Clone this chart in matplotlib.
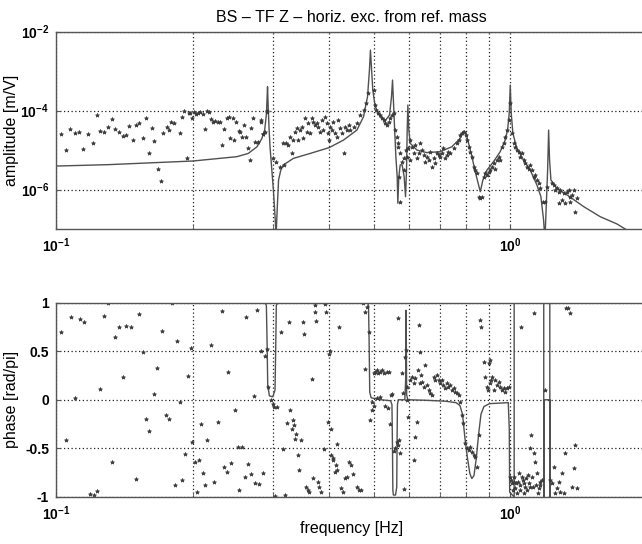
import matplotlib
matplotlib.use("Agg")
import matplotlib.pyplot as plt
import numpy as np

plt.rcParams["font.family"] = ["Liberation Sans", "DejaVu Sans"]
plt.rcParams["mathtext.fontset"] = "custom"
plt.rcParams["mathtext.rm"] = "Liberation Sans"
plt.rcParams["mathtext.bf"] = "Liberation Sans:bold"

# --- fitted model, amplitude [m/V] ---
fit_freq = [0.100, 0.130, 0.200, 0.250, 0.265, 0.277, 0.284, 0.288, 0.2905, 0.2915, 0.2922,
            0.2932, 0.2945, 0.2959, 0.301, 0.3036, 0.3051, 0.3073, 0.309, 0.3125, 0.3167,
            0.3332, 0.3626, 0.3993, 0.4295, 0.4596, 0.4754, 0.4851, 0.4898, 0.4923, 0.4957,
            0.4982, 0.5042, 0.5171, 0.5304, 0.5423, 0.5478, 0.5506, 0.5534, 0.5562, 0.560,
            0.5638, 0.5656, 0.5685, 0.5724, 0.5781, 0.5841, 0.5881, 0.5911, 0.5931, 0.5951,
            0.5981, 0.6022, 0.6229, 0.6552, 0.7011, 0.7437, 0.7759, 0.7892, 0.7985, 0.8095,
            0.8233, 0.8375, 0.859, 0.8704, 0.8885, 0.9189, 0.9504, 0.9748, 0.9865, 0.9948,
            1.000, 1.005, 1.0135, 1.0342, 1.0698, 1.1066, 1.1447, 1.168, 1.184, 1.192, 1.200,
            1.2085, 1.2147, 1.2205, 1.229, 1.2672, 1.3335, 1.4504, 1.578, 1.718, 1.807]
fit_amp = [3.93e-6, 4.26e-6, 5.27e-6, 6.78e-6, 8.2e-6, 1.21e-5, 1.97e-5, 3.2e-5, 8.0e-5, 2.0e-4, 4.0e-4,
           1.2e-4, 3.5e-5, 1.21e-5, 9.8e-7, 2.05e-7, 6.5e-8, 4.5e-7, 1.74e-6, 3.1e-6, 4.2e-6,
           6.15e-6, 8.2e-6, 1.15e-5, 1.79e-5, 3.2e-5, 7.0e-5, 2.24e-4, 1.06e-3, 3.4e-3, 8.7e-4,
           3.3e-4, 1.25e-4, 7.0e-5, 5.5e-5, 7.7e-5, 2.24e-4, 5.9e-4, 1.52e-4, 3.9e-5, 6.8e-6,
           2.1e-6, 4.5e-7, 2.1e-6, 4.2e-6, 4.2e-6, 2.1e-6, 6.6e-7, 3.1e-6, 3.2e-5, 1.38e-4,
           3.2e-5, 1.48e-5, 1.0e-5, 8.6e-6, 9.1e-6, 1.21e-5, 1.97e-5, 3.03e-5, 2.75e-5, 1.48e-5,
           6.8e-6, 2.8e-6, 8.8e-7, 1.74e-6, 3.1e-6, 5.1e-6, 9.1e-6, 1.79e-5, 3.2e-5, 8.5e-5,
           4.4e-4, 8.5e-5, 2.64e-5, 1.1e-5, 5.6e-6, 3.1e-6, 1.3e-6, 6.6e-7, 1.69e-7, 5.2e-8, 3.7e-7,
           3.1e-6, 3.2e-5, 5.6e-6, 1.74e-6, 1.07e-6, 7.3e-7, 3.7e-7, 2.05e-7, 1.34e-7, 9.4e-8]

# --- measured amplitude [m/V] ---
meas_freq = [0.1026, 0.105, 0.1073, 0.1103, 0.1126, 0.1149, 0.1174, 0.1204, 0.1229, 0.125,
             0.1278, 0.130, 0.1326, 0.1351, 0.1379, 0.1402, 0.1426, 0.145, 0.148, 0.150,
             0.1526, 0.1552, 0.1579, 0.160, 0.1627, 0.1647, 0.1675, 0.1703, 0.1723, 0.1753,
             0.1777, 0.1792, 0.1823, 0.1876, 0.1895, 0.1918, 0.1943, 0.196, 0.1976, 0.1993,
             0.2017, 0.2034, 0.2051, 0.2076, 0.2104, 0.2129, 0.2147, 0.2169, 0.2195, 0.2221,
             0.2244, 0.2271, 0.2298, 0.2321, 0.2349, 0.2377, 0.2409, 0.2421, 0.245, 0.2471,
             0.2492, 0.2526, 0.2543, 0.2569, 0.260, 0.2622, 0.2644, 0.2667, 0.2689, 0.2712,
             0.2744, 0.2781, 0.2828, 0.2853, 0.2892, 0.292,
             0.2823, 0.2853, 0.2911, 0.301, 0.3051, 0.3113, 0.3156, 0.3178, 0.321, 0.3248,
             0.3276, 0.3304, 0.3332, 0.3361, 0.3388, 0.3417, 0.3447, 0.3475, 0.3505, 0.3535,
             0.3565, 0.3596, 0.3626, 0.3657, 0.3688, 0.3719, 0.3751, 0.3783, 0.3815, 0.3847,
             0.388, 0.3913, 0.3946, 0.398, 0.3993, 0.4014, 0.4048, 0.4082, 0.4117, 0.4152,
             0.4187, 0.4223, 0.4259, 0.4295, 0.4331, 0.4368, 0.4406, 0.4442, 0.4519, 0.4596,
             0.4674, 0.4754, 0.4819, 0.4851, 0.500, 0.5042, 0.5068, 0.5128, 0.5171, 0.5216,
             0.526, 0.5304, 0.535, 0.5395, 0.544, 0.5487, 0.5534, 0.5581, 0.5628, 0.5647,
             0.5675, 0.5724, 0.5704, 0.5724, 0.5772, 0.5821, 0.5841, 0.5901, 0.5921, 0.597,
             0.6001, 0.6022, 0.6073, 0.6124, 0.6176, 0.6229, 0.6282, 0.6334, 0.6388, 0.6443,
             0.6497, 0.6552, 0.6608, 0.6663, 0.672, 0.6778, 0.6836, 0.6893, 0.6952, 0.7011,
             0.7069, 0.7129, 0.719, 0.7252, 0.7312, 0.7374, 0.7501, 0.763, 0.7721,
             0.7759, 0.7825, 0.7892, 0.7985, 0.8026, 0.8095, 0.8164, 0.8233, 0.8304, 0.8375,
             0.8444, 0.8516, 0.859, 0.8661, 0.8735, 0.881, 0.8885, 0.8959, 0.9036, 0.9113,
             0.9189, 0.9267, 0.9347, 0.9424, 0.9504, 0.9585, 0.9667, 0.9748, 0.9831, 0.9915,
             0.9998, 1.0083, 1.0169, 1.0256, 1.0342, 1.043, 1.052, 1.0607, 1.0698, 1.0789,
             1.0882, 1.0972, 1.1066, 1.1161, 1.1253, 1.135, 1.1447, 1.1545, 1.1641, 1.1798,
             1.1939, 1.2041, 1.2355, 1.2461, 1.2567, 1.2672, 1.278, 1.289, 1.2998, 1.3109,
             1.3222, 1.3335, 1.3447, 1.3562, 1.3678, 1.3795, 1.391, 1.4028, 1.3562, 1.278]
meas_amp = [2.54e-5, 1.0e-5, 3.4e-5, 2.75e-5, 2.86e-5, 1.04e-5, 2.6e-5, 1.5e-5, 7.55e-5, 3.03e-5,
            2.86e-5, 3.9e-5, 5.97e-5, 3.47e-5, 2.8e-5, 2.3e-5, 2.4e-5, 3.97e-5, 1.79e-5, 4.3e-5,
            4.73e-5, 1.97e-5, 6.3e-5, 8.2e-6, 3.54e-5, 1.72e-5, 3.4e-6, 1.6e-6, 2.64e-5, 3.9e-5,
            3.2e-5, 5.0e-5, 4.9e-5, 2.64e-5, 6.7e-5, 9.9e-5, 6.15e-6, 8.8e-5, 8.5e-5, 6.3e-5,
            9.3e-5, 8.1e-5, 8.8e-5, 9.3e-5, 8.1e-5, 3.4e-5, 9.7e-5, 9.2e-5, 5.97e-5, 5.1e-5,
            5.4e-5, 5.2e-5, 5.0e-5, 1.36e-5, 3.47e-5, 6.6e-5, 6.7e-5, 2.05e-5, 6.6e-5, 1.79e-5,
            5.2e-5, 3.1e-5, 2.9e-5, 2.1e-5, 4.3e-5, 2.18e-5, 1.1e-5, 5.6e-6, 3.54e-5, 6.3e-5,
            1.63e-5, 1.63e-5, 5.2e-5, 2.5e-5, 2.9e-5, 1.0e-4,
            5.75e-5, 2.54e-5, 9.3e-5, 6.15e-6, 5.1e-6, 3.8e-6, 1.48e-5, 4.2e-6, 1.48e-5, 1.34e-5,
            2.18e-5, 8.2e-6, 1.79e-5, 2.9e-5, 3.54e-5, 1.79e-5, 3.2e-5, 3.9e-5, 1.97e-5, 6.3e-5,
            2.9e-5, 4.73e-5, 2.64e-5, 6.3e-5, 5.2e-5, 4.3e-5, 4.73e-5, 3.9e-5, 2.9e-5, 5.75e-5,
            3.2e-5, 7.0e-5, 4.73e-5, 2.64e-5, 1.79e-5, 3.9e-5, 3.2e-5, 5.2e-5, 2.64e-5, 2.18e-5,
            5.75e-5, 3.54e-5, 2.64e-5, 8.2e-6, 3.9e-5, 3.2e-5, 4.3e-5, 3.2e-5, 3.9e-5, 4.73e-5,
            7.7e-5, 1.03e-4, 1.52e-4, 2.72e-4, 3.3e-4, 1.38e-4, 1.03e-4, 8.5e-5, 7.7e-5, 6.3e-5,
            5.75e-5, 4.73e-5, 4.3e-5, 5.2e-5, 6.3e-5, 7.7e-5, 8.5e-5, 3.2e-5, 2.18e-5, 1.48e-5,
            1.21e-5, 8.2e-6, 2.1e-6, 4.9e-7, 5.1e-6, 6.15e-6, 3.1e-6, 1.0e-5, 6.8e-6, 1.1e-5,
            5.6e-6, 1.79e-5, 1.21e-5, 8.2e-6, 1.34e-5, 6.15e-6, 8.2e-6, 1.48e-5, 1.0e-5, 7.5e-6,
            5.1e-6, 6.8e-6, 5.6e-6, 9.1e-6, 3.8e-6, 6.15e-6, 4.6e-6, 8.2e-6, 7.5e-6, 6.8e-6,
            8.2e-6, 1.1e-5, 6.15e-6, 7.5e-6, 9.1e-6, 8.2e-6, 1.1e-5, 1.48e-5, 1.79e-5,
            2.4e-5, 2.64e-5, 2.9e-5, 2.4e-5, 1.79e-5, 1.21e-5, 9.1e-6, 6.8e-6, 3.8e-6, 3.1e-6,
            2.56e-6, 6.6e-7, 6.0e-7, 6.6e-7, 2.1e-6, 2.56e-6, 2.33e-6, 2.8e-6, 3.1e-6, 3.8e-6,
            4.6e-6, 3.4e-6, 5.6e-6, 6.8e-6, 5.6e-6, 1.21e-5, 1.48e-5, 2.17e-5, 3.2e-5, 5.75e-5,
            1.52e-4, 2.64e-5, 1.48e-5, 1.21e-5, 1.0e-5, 9.1e-6, 6.8e-6, 8.2e-6, 5.6e-6, 4.6e-6,
            3.8e-6, 3.4e-6, 4.2e-6, 3.1e-6, 2.1e-6, 2.33e-6, 1.74e-6, 1.43e-6, 1.07e-6, 4.9e-7,
            4.9e-7, 1.18e-6, 1.43e-6, 1.3e-6, 9.7e-7, 1.07e-6, 8.8e-7, 9.7e-7, 5.4e-7, 8.0e-7,
            4.5e-7, 8.8e-7, 9.7e-7, 6.6e-7, 7.3e-7, 9.7e-7, 2.75e-7, 6.0e-7, 4.9e-7, 4.5e-7]

# --- fitted model, phase [rad/pi] ---
fit_ph_freq = [0.100, 0.288, 0.2905, 0.2915, 0.2925, 0.295, 0.300, 0.3035, 0.3045, 0.3055, 0.308,
               0.485, 0.4875, 0.489, 0.4905, 0.494, 0.520, 0.545, 0.549, 0.5505, 0.5515, 0.553,
               0.559, 0.5625, 0.5635, 0.5645, 0.567, 0.586, 0.5885, 0.5895, 0.5905, 0.5915, 0.595,
               0.650, 0.720, 0.760, 0.775, 0.785, 0.795, 0.805, 0.815, 0.823, 0.832, 0.842, 0.852,
               0.862, 0.875, 0.900, 0.990, 0.995, 0.997, 1.020, 1.020, 1.185, 1.185, 1.188,
               1.188, 1.222, 1.222, 1.222, 2.0]
fit_phase = [1.0, 1.0, 0.97, 0.6, 0.15, 0.04, 0.03, 0.1, 0.5, 0.97, 1.0,
             1.0, 0.97, 0.6, 0.08, 0.02, 0.0, -0.01, -0.05, -0.5, -0.93, -0.98,
             -0.98, -0.9, -0.4, -0.05, 0.0, 0.0, 0.2, 0.92, 0.6, 0.05, 0.0,
             -0.005, -0.015, -0.03, -0.06, -0.15, -0.4, -0.6, -0.76, -0.81, -0.78, -0.6, -0.35,
             -0.15, -0.07, -0.04, -0.03, -0.3, -0.95, -1.0, 1.0, 1.0, -1.0, -1.0,
             0.0, 0.0, -1.0, 1.0, 1.0]

# --- measured phase [rad/pi] ---
ph_freq = [0.1025, 0.1051, 0.1078, 0.1103, 0.1131, 0.1154, 0.1186, 0.1211, 0.1229, 0.1252,
           0.1276, 0.130, 0.1327, 0.1349, 0.1378, 0.1401, 0.1427, 0.146, 0.150, 0.1526,
           0.1551, 0.1577, 0.1601, 0.1644, 0.1672, 0.1714, 0.175, 0.1776, 0.1805, 0.1825,
           0.1851, 0.1874, 0.1894, 0.1922, 0.1954, 0.1983, 0.1995, 0.202, 0.2046, 0.2067,
           0.2089, 0.2111, 0.2133, 0.2154, 0.2195, 0.2223, 0.227, 0.2317, 0.2342, 0.2376,
           0.2396, 0.2426, 0.2477, 0.2519, 0.2535, 0.2572, 0.2609, 0.2626, 0.2653, 0.2692,
           0.2725, 0.2748, 0.2777, 0.2794, 0.2823, 0.2853, 0.2882, 0.2912, 0.2925, 0.2974,
           0.3005, 0.3018, 0.3036, 0.3068, 0.3132, 0.3166, 0.3199, 0.3232, 0.3259, 0.328,
           0.3314, 0.3327, 0.3334, 0.3355, 0.337, 0.3405, 0.3426, 0.3462, 0.3498, 0.3512,
           0.3549, 0.3587, 0.3609, 0.3662, 0.3677, 0.3708, 0.3723, 0.3739, 0.3778, 0.3801,
           0.3834, 0.3882, 0.3914, 0.3938, 0.398, 0.3996, 0.4013, 0.4029, 0.4038, 0.4063,
           0.408, 0.4105, 0.4131, 0.4148, 0.4165, 0.420, 0.4235, 0.4279, 0.4324, 0.437,
           0.4416, 0.4462, 0.4508, 0.4604, 0.4652, 0.470, 0.4749, 0.4779, 0.4798, 0.4848,
           0.4898, 0.4915, 0.4957, 0.4957, 0.500, 0.5017, 0.5042, 0.5086, 0.5102, 0.5128,
           0.5171, 0.5171, 0.5216, 0.526, 0.5304, 0.535, 0.5368, 0.5395, 0.5423, 0.546,
           0.5487, 0.5534, 0.5581, 0.5628, 0.5656, 0.5675, 0.5695, 0.5724, 0.5772, 0.5801,
           0.5841, 0.5871, 0.5901, 0.592, 0.594, 0.597, 0.6001, 0.6073, 0.6124, 0.6176,
           0.6145, 0.6176, 0.6229, 0.625, 0.6281, 0.6313, 0.6334, 0.6356, 0.6388, 0.6443,
           0.6497, 0.6552, 0.6608, 0.6663, 0.672, 0.6778, 0.6836, 0.6893, 0.6952, 0.7011,
           0.7069, 0.7129, 0.719, 0.7252, 0.7312, 0.7374, 0.7437, 0.7501, 0.7565, 0.763,
           0.7695, 0.7759, 0.7825, 0.7865, 0.7958, 0.8026, 0.8095, 0.8164, 0.8233, 0.8304,
           0.8375, 0.8444, 0.8516, 0.859, 0.8633, 0.8735, 0.881, 0.8885, 0.8959, 0.8915,
           0.9005, 0.9036, 0.9066, 0.9113, 0.9189, 0.9267, 0.9347, 0.9424, 0.9504, 0.9585,
           0.9667, 0.9748, 0.9831, 0.9915, 0.9965, 1.0033, 1.0083, 1.0135, 1.0169, 1.0204,
           1.0256, 1.0308, 1.0342, 1.0377, 1.043, 1.0484, 1.052, 1.0555, 1.0607, 1.0661,
           1.0698, 1.0734, 1.0789, 1.0845, 1.0882, 1.0937, 1.0972, 1.1029, 1.1066, 1.1104,
           1.1161, 1.1218, 1.1253, 1.1291, 1.135, 1.1407, 1.1447, 1.1486, 1.1545, 1.1604,
           1.1641, 1.174, 1.1939, 1.2249, 1.2355, 1.2461, 1.2567, 1.2672, 1.278, 1.289,
           1.2998, 1.3109, 1.3222, 1.3267, 1.338, 1.3517, 1.3678, 1.3795, 1.391, 1.4028]
ph_val = [0.693, -0.416, 0.853, 0.017, 0.829, 0.795, -0.966, -0.98, -0.939, 0.113,
          0.863, 0.99, -0.645, 0.642, 0.751, 0.232, 0.754, 0.744, -0.819, 0.881,
          0.495, -0.201, -0.317, 0.061, 0.324, 0.703, -0.16, -0.195, 0.99, -0.877,
          0.608, -0.024, -0.826, -0.553, 0.249, 0.532, -0.433, -0.638, -0.945, -0.621,
          -0.246, -0.758, -0.877, -0.416, 0.567, -0.843, -0.229, 0.915, -0.689, -0.741,
          0.283, -0.648, -0.109, -0.485, -0.928, -0.485, -0.792, 0.853, -0.662, -0.765,
          0.034, -0.86, 0.922, -0.863, 0.505, -0.758, 0.447, 0.522, 0.13, -0.007,
          -0.048, -0.075, -0.986, -0.075, 0.693, -0.502, -0.98, -0.235, 0.795, -0.109,
          -0.297, -0.212, -0.263, -0.399, -0.348, -0.57, -0.724, -0.416, 0.795, 0.676,
          -0.894, -0.928, -0.945, 0.215, -0.809, 0.973, 0.898, 0.812, -0.843, -0.894,
          -0.945, -0.502, 0.983, 0.898, -0.229, 0.471, 0.505, -0.297, -0.57, -0.604,
          -0.621, -0.741, -0.672, -0.724, -0.451, 0.744, -0.911, -0.945, -0.809, -0.792,
          -0.645, -0.672, -0.768, -0.894, -0.928, -0.928, 1.0, 0.317, 0.898, 0.949,
          0.7, -0.208, -0.02, -0.106, 0.272, -0.064, 0.289, 0.306, 0.014, 0.272,
          0.289, 0.031, 0.306, 0.272, -0.064, 0.289, -0.089, 0.289, -0.249, 0.049,
          0.059, -0.524, -0.5, -0.431, 0.837, -0.465, -0.414, -0.551, 0.272, 0.066,
          -0.921, 0.443, 0.512, -0.003, 0.134, -0.174, 0.203, 0.237, 0.169, 0.22,
          -0.62, -0.379, -0.225, 0.306, 0.769, 0.169, 0.494, 0.254, 0.186, 0.134,
          0.357, 0.152, 0.1, 0.066, 0.049, 0.237, 0.203, 0.254, 0.203, 0.169,
          0.203, 0.152, 0.117, 0.169, 0.134, 0.152, 0.1, 0.117, 0.083, 0.066,
          0.049, -0.02, -0.157, -0.242, -0.448, -0.5, -0.517, -0.482, -0.534, -0.568,
          -0.585, -0.688, -0.362, 0.82, 0.751, 0.391, 0.237, 0.134, 0.374, 0.1,
          0.169, 0.409, 0.203, 0.237, 0.1, 0.203, 0.152, 0.186, 0.134, 0.1,
          0.117, 0.083, 0.117, 0.134, -0.791, -0.825, -0.859, -0.928, -0.842, -0.791,
          -0.911, -0.859, -0.962, -0.842, -0.757, -0.877, -0.928, 0.751, -0.791, -0.825,
          -0.962, -0.859, -0.894, -0.808, -0.928, -0.774, -0.859, -0.894, -0.5, -0.362,
          -0.791, -0.894, 0.889, -0.551, -0.637, -0.877, -0.757, -0.962, -0.911, -0.842,
          -0.877, -0.825, 0.1, -0.825, -0.859, -0.688, -0.962, -0.911, -0.842, -0.945,
          -0.757, -0.962, -0.551, 0.94, 0.94, 0.889, -0.894, -0.705, -0.465, -0.911]

line_color = "#505050"
dot_color = "#3a3a3a"
grid_kw = dict(color="#222222", linestyle=(0, (1, 2)), linewidth=0.9)

fig = plt.figure(figsize=(6.42, 5.44), dpi=100)
ax_amp = fig.add_axes([0.0872, 0.579, 0.9206, 0.363])
ax_ph = fig.add_axes([0.0872, 0.0864, 0.9206, 0.3575])

# amplitude
ax_amp.loglog(fit_freq, fit_amp, color=line_color, linewidth=1.0)
ax_amp.plot(meas_freq, meas_amp, linestyle="none", marker="*", markersize=3.0,
            markeredgewidth=0.5, color=dot_color)
ax_amp.set_xlim(0.1, 2.0)
ax_amp.set_ylim(1e-7, 1e-2)
ax_amp.set_yticks([1e-6, 1e-4, 1e-2])
ax_amp.set_yticks([], minor=True)
ax_amp.set_yticklabels([r"$\mathbf{10^{-6}}$", r"$\mathbf{10^{-4}}$", r"$\mathbf{10^{-2}}$"])
ax_amp.set_ylabel("amplitude [m/V]", fontsize=11.5)
ax_amp.yaxis.set_label_coords(-0.062, 0.5)
ax_amp.set_title("BS \u2013 TF Z \u2013 horiz. exc. from ref. mass", fontsize=11.5, pad=7)

# phase
ax_ph.semilogx(fit_ph_freq, fit_phase, color=line_color, linewidth=1.0)
ax_ph.plot(ph_freq, ph_val, linestyle="none", marker="*", markersize=3.0,
           markeredgewidth=0.5, color=dot_color)
ax_ph.set_xlim(0.1, 2.0)
ax_ph.set_ylim(-1, 1)
ax_ph.set_yticks([-1, -0.5, 0, 0.5, 1])
ax_ph.set_yticklabels(["-1", "-0.5", "0", "0.5", "1"], fontweight="bold", fontsize=9.5)
ax_ph.set_ylabel("phase [rad/pi]", fontsize=11.5)
ax_ph.yaxis.set_label_coords(-0.062, 0.5)
ax_ph.set_xlabel("frequency [Hz]", fontsize=11.5)
ax_ph.xaxis.set_label_coords(0.5, -0.125)

for ax in (ax_amp, ax_ph):
    ax.set_xticks([0.1, 1.0])
    ax.set_xticklabels([r"$\mathbf{10^{-1}}$", r"$\mathbf{10^{0}}$"])
    ax.set_xticks([0.2, 0.3, 0.4, 0.5, 0.6, 0.7, 0.8, 0.9, 2.0], minor=True)
    ax.xaxis.set_minor_formatter(matplotlib.ticker.NullFormatter())
    ax.grid(True, which="both", axis="x", **grid_kw)
    ax.grid(True, which="major", axis="y", **grid_kw)
    ax.tick_params(which="both", direction="in", length=3, color="#555555", labelsize=10, pad=5)
    for spine in ax.spines.values():
        spine.set_color("#555555")
        spine.set_linewidth(1.0)

fig.savefig("out.png", dpi=100)
